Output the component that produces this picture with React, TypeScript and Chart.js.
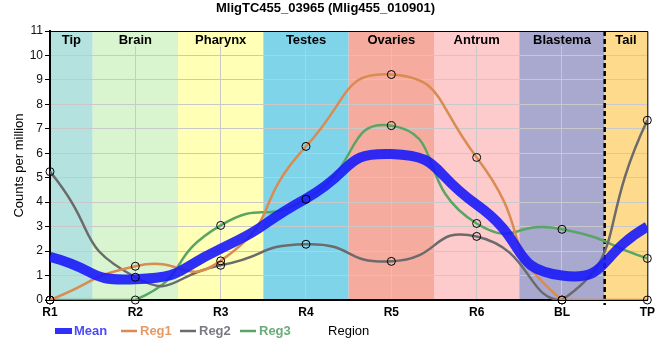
import React, { useEffect, useRef } from "react";
import { Chart, registerables } from "chart.js";

Chart.register(...registerables);

const chartTitle = "MligTC455_03965 (Mlig455_010901)";
const categories = ["R1", "R2", "R3", "R4", "R5", "R6", "BL", "TP"];
const regionNames = ["Tip", "Brain", "Pharynx", "Testes", "Ovaries", "Antrum", "Blastema", "Tail"];
const dividerAfter = "BL";
const meanValues = [1.77, 0.85, 2.1, 4.15, 5.97, 3.9, 1.0, 3.0];
const reg1Values = [0, 1.38, 1.6, 6.28, 9.22, 5.83, 0, 0];
const reg2Values = [5.25, 0.93, 1.42, 2.28, 1.58, 2.6, 0, 7.35];
const reg3Values = [0, 0, 3.05, 4.12, 7.13, 3.13, 2.89, 1.7];
const yMin = 0;
const yMax = 11;
const yStep = 1;
const yTitle = "Counts per million";
const xTitle = "Region";
const seriesNames = ["Mean", "Reg1", "Reg2", "Reg3"];

const regionColors = ["#b4e2de", "#d8f5cf", "#ffffb6", "#80d4ea", "#f5ab9d", "#fdcbcb", "#a9a8ce", "#fedb8c"];
const lineColors = ["rgba(25,25,250,0.9)", "#d98b52", "#6b6b6b", "#5aa566"];
const legendTextColors = ["#4b4bf7", "#e59a66", "#7a7a82", "#6aab7a"];
const FONT = "'Liberation Sans', Arial, sans-serif";
const TENSION = 0.6;

const overlayPlugin = {
  id: "overlay",
  beforeDraw(chart: any) {
    const { ctx, chartArea: a, scales } = chart;
    const x = scales.x;
    const n = categories.length;
    ctx.save();
    regionNames.forEach((_, i) => {
      const l = i === 0 ? a.left : (x.getPixelForValue(i - 1) + x.getPixelForValue(i)) / 2;
      const r = i === n - 1 ? a.right : (x.getPixelForValue(i) + x.getPixelForValue(i + 1)) / 2;
      ctx.fillStyle = regionColors[i];
      ctx.fillRect(l, a.top, r - l, a.bottom - a.top);
    });
    ctx.restore();
  },
  beforeDatasetsDraw(chart: any) {
    const { ctx, chartArea: a, scales } = chart;
    const x = scales.x;
    const n = categories.length;
    ctx.save();
    ctx.font = `bold 13px ${FONT}`;
    ctx.textAlign = "center";
    ctx.textBaseline = "middle";
    regionNames.forEach((name, i) => {
      const l = i === 0 ? a.left : (x.getPixelForValue(i - 1) + x.getPixelForValue(i)) / 2;
      const r = i === n - 1 ? a.right : (x.getPixelForValue(i) + x.getPixelForValue(i + 1)) / 2;
      const cx = (l + r) / 2;
      const w = ctx.measureText(name).width;
      ctx.fillStyle = regionColors[i];
      ctx.fillRect(cx - w / 2 - 2, a.top + 1, w + 4, 14);
      ctx.fillStyle = "#000";
      ctx.fillText(name, cx, a.top + 9);
    });
    ctx.strokeStyle = "#000";
    ctx.lineWidth = 1;
    ctx.beginPath();
    ctx.moveTo(a.left, a.top + 0.5);
    ctx.lineTo(a.right + 0.5, a.top + 0.5);
    ctx.lineTo(a.right + 0.5, a.bottom);
    ctx.stroke();
    const di = categories.indexOf(dividerAfter);
    const dx = (x.getPixelForValue(di) + x.getPixelForValue(di + 1)) / 2;
    ctx.setLineDash([5, 3]);
    ctx.lineWidth = 2.5;
    ctx.beginPath();
    ctx.moveTo(dx, a.top);
    ctx.lineTo(dx, a.bottom + 5);
    ctx.stroke();
    ctx.restore();
  },
  afterDraw(chart: any) {
    const { ctx } = chart;
    ctx.save();
    ctx.font = `bold 13px ${FONT}`;
    ctx.textBaseline = "middle";
    ctx.textAlign = "left";
    const y = 331;
    const starts = [55, 121, 180, 240];
    seriesNames.forEach((name, i) => {
      const sx = starts[i];
      if (i === 0) {
        ctx.fillStyle = "rgba(25,25,250,0.9)";
        ctx.fillRect(sx, y - 3, 17, 6);
      } else {
        ctx.strokeStyle = lineColors[i];
        ctx.lineWidth = 2.5;
        ctx.beginPath();
        ctx.moveTo(sx, y);
        ctx.lineTo(sx + 16, y);
        ctx.stroke();
      }
      ctx.fillStyle = legendTextColors[i];
      ctx.fillText(name, sx + 19, y);
    });
    ctx.restore();
  },
};

function pointSet(label: string, data: number[]) {
  return {
    label,
    data,
    showLine: false,
    pointRadius: 4,
    pointBorderWidth: 1,
    pointBorderColor: "#000",
    pointBackgroundColor: "rgba(0,0,0,0)",
    clip: false as any,
    order: 0,
  };
}

function lineSet(label: string, data: number[], color: string, width: number, order: number) {
  return {
    label,
    data,
    borderColor: color,
    backgroundColor: color,
    borderWidth: width,
    pointRadius: 0,
    tension: TENSION,
    fill: false,
    clip: 0 as any,
    order,
  };
}

export default function App() {
  const ref = useRef<HTMLCanvasElement>(null);
  useEffect(() => {
    if (!ref.current) return;
    const chart = new Chart(ref.current, {
      type: "line",
      data: {
        labels: categories,
        datasets: [
          pointSet("Reg1 points", reg1Values),
          pointSet("Reg2 points", reg2Values),
          pointSet("Reg3 points", reg3Values),
          lineSet(seriesNames[0], meanValues, lineColors[0], 10, 1),
          lineSet(seriesNames[1], reg1Values, lineColors[1], 2.5, 2),
          lineSet(seriesNames[2], reg2Values, lineColors[2], 2.5, 2),
          lineSet(seriesNames[3], reg3Values, lineColors[3], 2.5, 2),
        ] as any,
      },
      options: {
        animation: false,
        responsive: false,
        devicePixelRatio: 1,
        events: [],
        layout: { padding: { top: 0, left: 0, right: 9, bottom: 0 } },
        plugins: {
          legend: { display: false },
          tooltip: { enabled: false },
          title: {
            display: true,
            text: chartTitle,
            color: "#000",
            font: { family: FONT, size: 13, weight: "bold" },
            padding: { top: 1, bottom: 14.4 },
          },
        },
        scales: {
          x: {
            type: "category",
            afterFit: (s: any) => {
              s.height = 60;
            },
            grid: { color: "#c9c9c9", lineWidth: 1, drawTicks: false },
            border: { color: "#000", width: 2 },
            ticks: {
              color: "#000",
              font: { family: FONT, size: 12, weight: "bold" },
              padding: 5,
              maxRotation: 0,
              autoSkip: false,
            },
            title: {
              display: true,
              text: xTitle,
              color: "#000",
              font: { family: FONT, size: 13 },
              padding: { top: 0, bottom: 21.2 },
            },
          },
          y: {
            min: yMin,
            max: yMax,
            afterFit: (s: any) => {
              s.width = 50;
            },
            grid: { color: "#c9c9c9", lineWidth: 1, tickColor: "#000", tickLength: 5 },
            border: { color: "#000", width: 2 },
            ticks: {
              stepSize: yStep,
              color: "#111",
              font: { family: FONT, size: 12 },
              padding: 2,
            },
            title: {
              display: true,
              text: yTitle,
              color: "#000",
              font: { family: FONT, size: 13 },
              padding: { top: 12, bottom: 0 },
            },
          },
        },
      } as any,
      plugins: [overlayPlugin],
    });
    return () => chart.destroy();
  }, []);
  return (
    <div style={{ position: "absolute", left: 0, top: 0, width: 660, height: 360, background: "#fff" }}>
      <canvas ref={ref} width={660} height={360} style={{ display: "block", width: 660, height: 360 }} />
    </div>
  );
}
